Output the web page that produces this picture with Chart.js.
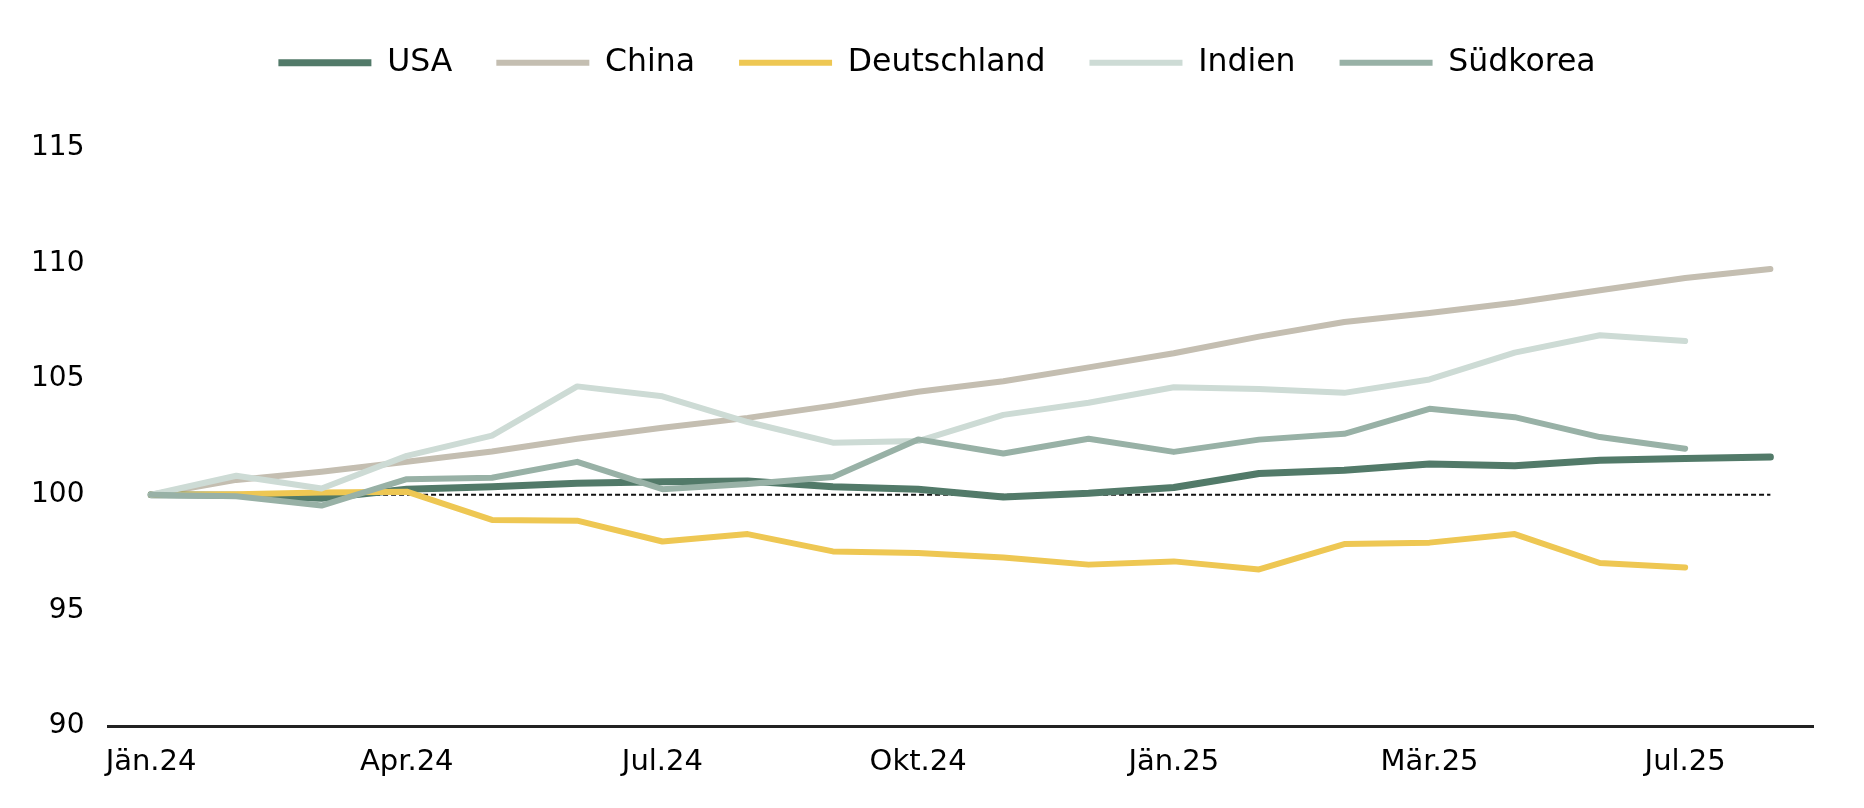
<!DOCTYPE html>
<html lang="de">
<head>
<meta charset="utf-8">
<title>Industrieproduktion</title>
<script src="https://cdn.jsdelivr.net/npm/chart.js@4"></script>
<style>
  html, body { margin: 0; padding: 0; background: #fff; }
  #wrap { width: 1864px; height: 808px; position: relative; }
</style>
</head>
<body>
<div id="wrap"><canvas id="chart"></canvas></div>
<script>
// x-axis categories (only every third month is labelled)
const categories = ["Jän.24", "", "", "Apr.24", "", "", "Jul.24", "", "", "Okt.24", "", "",
  "Jän.25", "", "", "Mär.25", "", "", "Jul.25", ""];

const usa = [100, 99.98, 99.85, 100.24, 100.34, 100.5, 100.56, 100.59, 100.34, 100.24,
  99.9, 100.06, 100.31, 100.92, 101.06, 101.33, 101.25, 101.49, 101.56, 101.63];
const china = [100, 100.64, 100.99, 101.42, 101.87, 102.42, 102.89, 103.32, 103.85, 104.45,
  104.9, 105.5, 106.11, 106.83, 107.46, 107.85, 108.29, 108.83, 109.36, 109.75];
const deutschland = [100, 100.02, 100.1, 100.13, 98.91, 98.88, 97.98, 98.3, 97.55, 97.48,
  97.29, 96.98, 97.12, 96.77, 97.87, 97.93, 98.3, 97.05, 96.86];
const indien = [100, 100.82, 100.27, 101.68, 102.55, 104.68, 104.25, 103.14, 102.25, 102.32,
  103.45, 103.97, 104.64, 104.57, 104.4, 104.98, 106.14, 106.89, 106.64];
const suedkorea = [100, 99.93, 99.53, 100.67, 100.73, 101.42, 100.24, 100.46, 100.77, 102.39,
  101.78, 102.42, 101.85, 102.38, 102.63, 103.71, 103.35, 102.49, 101.99];
const baseline = [100, 100, 100, 100, 100, 100, 100, 100, 100, 100,
  100, 100, 100, 100, 100, 100, 100, 100, 100, 100];

const yTicks = { min: 90, max: 115, step: 5 };

const FONT = "'DejaVu Sans', Verdana, sans-serif";

function series(label, data, color, width, order) {
  return {
    label, data, order,
    borderColor: color,
    backgroundColor: color,
    borderWidth: width,
    borderCapStyle: "round",
    borderJoinStyle: "round",
    pointRadius: 0,
    pointHoverRadius: 0,
    tension: 0,
    fill: false
  };
}

// more room under the legend, and nudge the legend a bit to the right
const legendGap = {
  id: "legendGap",
  beforeInit(chart) {
    const fit = chart.legend.fit;
    chart.legend.fit = function () {
      fit.call(this);
      this.height += 59;
    };
  },
  afterLayout(chart) {
    chart.legend.left += 27;
    chart.legend.right += 27;
  }
};

new Chart(document.getElementById("chart"), {
  type: "line",
  data: {
    labels: categories,
    datasets: [
      series("USA", usa, "#527a69", 7, 3),
      series("China", china, "#c4beb1", 6, 4),
      series("Deutschland", deutschland, "#eec753", 6, 2),
      series("Indien", indien, "#cddbd5", 6, 1),
      series("Südkorea", suedkorea, "#98b1a6", 6, 0),
      {
        label: "Basis",
        data: baseline,
        order: 5,
        borderColor: "#111",
        borderWidth: 2,
        borderDash: [5, 3],
        pointRadius: 0,
        pointHoverRadius: 0,
        fill: false
      }
    ]
  },
  options: {
    responsive: true,
    maintainAspectRatio: false,
    animation: false,
    layout: { padding: { left: 7, right: 51, top: 3, bottom: 9 } },
    plugins: {
      tooltip: { enabled: false },
      legend: {
        position: "top",
        align: "center",
        labels: {
          usePointStyle: true,
          pointStyle: "line",
          pointStyleWidth: 93,
          padding: 44,
          color: "#000",
          font: { family: FONT, size: 31.5 },
          filter: item => item.datasetIndex < 5,
          sort: (a, b) => a.datasetIndex - b.datasetIndex
        }
      }
    },
    scales: {
      x: {
        offset: true,
        grid: { display: false, drawTicks: false },
        border: { display: true, color: "#222", width: 3 },
        ticks: {
          autoSkip: false,
          maxRotation: 0,
          padding: 19,
          color: "#000",
          font: { family: FONT, size: 29 }
        }
      },
      y: {
        min: yTicks.min,
        max: yTicks.max,
        grid: { display: false, drawTicks: false },
        border: { display: false },
        ticks: {
          stepSize: yTicks.step,
          padding: 24,
          color: "#000",
          font: { family: FONT, size: 28 }
        }
      }
    }
  },
  plugins: [legendGap]
});
</script>
</body>
</html>
